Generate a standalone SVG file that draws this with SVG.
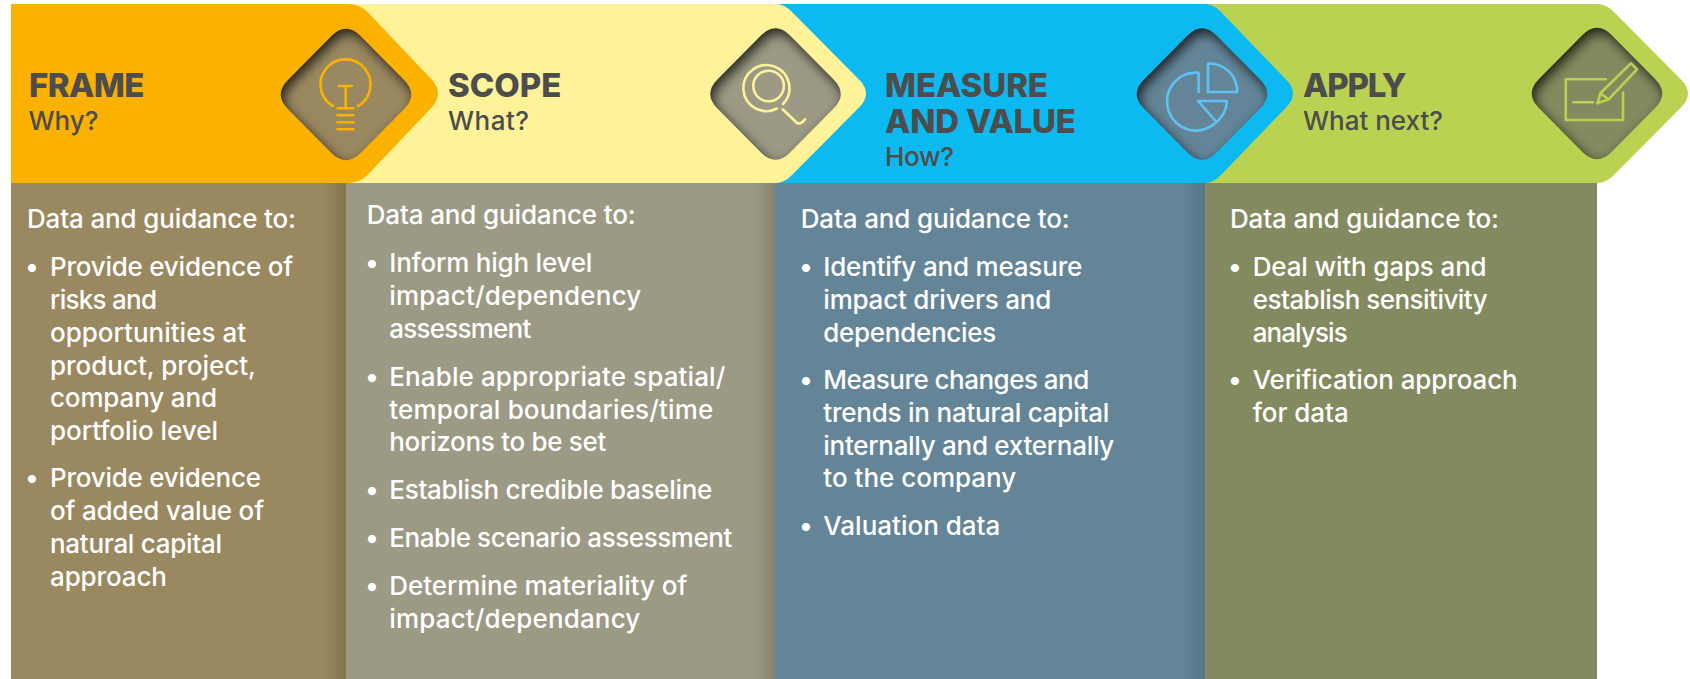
<svg xmlns="http://www.w3.org/2000/svg" xmlns:xlink="http://www.w3.org/1999/xlink" width="1690" height="679" viewBox="0 0 1690 679">
<style>
text{font-family:Inter,"Liberation Sans",sans-serif}
.h{font-size:33px;font-weight:800;fill:#4d4d4d}
.s{font-size:26px;font-weight:500;fill:#4d4d4d}
.b{font-size:26px;font-weight:500;fill:#fff}
.d{font-size:26px;font-weight:800;fill:#fff;text-anchor:middle}
.i{fill:none;stroke-width:2.6;stroke-linecap:round;stroke-linejoin:round}
</style>
<defs>
<path id="dia" d="M-14.5 -58.4Q0 -73 14.5 -58.4L58 -14.6Q72.5 0 58 14.6L14.5 58.4Q0 73 -14.5 58.4L-58 14.6Q-72.5 0 -58 -14.6Z"/>
<filter id="inset" x="-20%" y="-20%" width="140%" height="140%" color-interpolation-filters="sRGB">
<feFlood flood-color="#000" flood-opacity="0.75" result="f"/>
<feComposite in="f" in2="SourceAlpha" operator="out" result="o"/>
<feOffset in="o" dx="3" dy="5" result="off"/>
<feGaussianBlur in="off" stdDeviation="6" result="bl"/>
<feComposite in="bl" in2="SourceAlpha" operator="in" result="sh"/>
<feMerge><feMergeNode in="SourceGraphic"/><feMergeNode in="sh"/></feMerge>
</filter>
<linearGradient id="g1" x1="0" x2="1" y1="0" y2="0"><stop offset="0" stop-color="#9a8860"/><stop offset=".93" stop-color="#9a8860"/><stop offset="1" stop-color="#857650"/></linearGradient>
<linearGradient id="g2" x1="0" x2="1" y1="0" y2="0"><stop offset="0" stop-color="#9c9a84"/><stop offset=".95" stop-color="#9c9a84"/><stop offset="1" stop-color="#858370"/></linearGradient>
<linearGradient id="g3" x1="0" x2="1" y1="0" y2="0"><stop offset="0" stop-color="#648598"/><stop offset=".95" stop-color="#648598"/><stop offset="1" stop-color="#567487"/></linearGradient>
</defs>
<rect width="1690" height="679" fill="#fff"/>

<g id="step-apply">
<rect x="1205" y="183" width="392" height="496" fill="#838a5f"/>
<path fill="#bad252" d="M1190 4H1597Q1606 4 1614 12L1681 79.5Q1695 93.5 1681 107.5L1614 175Q1606 183 1597 183H1190Z"/>
<use href="#dia" x="1597" y="93.5" fill="#838a5f" filter="url(#inset)"/>
<g class="i" stroke="#bad252">
<path d="M1606 79.3H1565.8V120H1623V92.7"/>
<path d="M1573.3 102.3H1592.9"/>
<path d="M1597.4 103.3L1600.4 93.3L1631 63.3L1637 69.3L1608.6 99.3Z"/>
<path d="M1600.4 93.3L1608.6 99.3"/>
</g>
<text class="h" x="1303" y="97" textLength="103.5">APPLY</text>
<text class="s" x="1303" y="130" textLength="140">What next?</text>
<text class="b" x="1230" y="228" textLength="269">Data and guidance to:</text>
<text class="d" x="1235" y="276">•</text>
<text class="b" x="1252.7" y="276" textLength="234">Deal with gaps and</text>
<text class="b" x="1252.7" y="309" textLength="235">establish sensitivity</text>
<text class="b" x="1252.7" y="342" textLength="95">analysis</text>
<text class="d" x="1235" y="389">•</text>
<text class="b" x="1252.7" y="389" textLength="265">Verification approach</text>
<text class="b" x="1252.7" y="422" textLength="96">for data</text>
</g>

<g id="step-measure">
<rect x="775" y="183" width="430" height="496" fill="url(#g3)"/>
<path fill="#0cb9f0" d="M760 4H1205Q1213 4 1221 12L1286 79.5Q1300 93.5 1286 107.5L1221 175Q1213 183 1205 183H760Z"/>
<use href="#dia" x="1202" y="94" fill="#648598" filter="url(#inset)"/>
<g class="i" stroke="#5cc3f2">
<path d="M1198.6 92V72.7A29 29 0 1 0 1216.6 122"/>
<path d="M1198 101H1226.8A29 29 0 0 1 1216.6 122Z"/>
<path d="M1208 63.5V92H1237V88A28 28 0 0 0 1208 63.5Z"/>
</g>
<text class="h" x="885" y="97" textLength="163">MEASURE</text>
<text class="h" x="885" y="132.7" textLength="191">AND VALUE</text>
<text class="s" x="885" y="165.7" textLength="69">How?</text>
<text class="b" x="800.7" y="228.3" textLength="269">Data and guidance to:</text>
<text class="d" x="806" y="276">•</text>
<text class="b" x="823.3" y="276" textLength="259">Identify and measure</text>
<text class="b" x="823.3" y="308.7" textLength="228">impact drivers and</text>
<text class="b" x="823.3" y="341.7" textLength="173">dependencies</text>
<text class="d" x="806" y="389.3">•</text>
<text class="b" x="823.3" y="389.3" textLength="266">Measure changes and</text>
<text class="b" x="823.3" y="422" textLength="286">trends in natural capital</text>
<text class="b" x="823.3" y="455" textLength="291">internally and externally</text>
<text class="b" x="823.3" y="487.3" textLength="193">to the company</text>
<text class="d" x="806" y="535">•</text>
<text class="b" x="823.3" y="535" textLength="177">Valuation data</text>
</g>

<g id="step-scope">
<rect x="346" y="183" width="429" height="496" fill="url(#g2)"/>
<path fill="#fff399" d="M330 4H776Q784 4 792 12L859 79.5Q873 93.5 859 107.5L792 175Q784 183 776 183H330Z"/>
<use href="#dia" x="775.5" y="94" fill="#9c9a84" filter="url(#inset)"/>
<g class="i" stroke="#fff399">
<path d="M777 108.5A23 23 0 1 1 783 104"/>
<circle cx="768.6" cy="86" r="15.3"/>
<path d="M782.7 109.3L797 123Q801 125 805 119.3"/>
</g>
<text class="h" x="448" y="97" textLength="113.5">SCOPE</text>
<text class="s" x="448" y="130" textLength="81">What?</text>
<text class="b" x="366.7" y="224" textLength="269">Data and guidance to:</text>
<text class="d" x="372" y="272.3">•</text>
<text class="b" x="389.3" y="272.3" textLength="203">Inform high level</text>
<text class="b" x="389.3" y="305" textLength="252">impact/dependency</text>
<text class="b" x="389.3" y="337.7" textLength="142">assessment</text>
<text class="d" x="372" y="386">•</text>
<text class="b" x="389.3" y="386" textLength="336">Enable appropriate spatial/</text>
<text class="b" x="389.3" y="418.7" textLength="324">temporal boundaries/time</text>
<text class="b" x="389.3" y="451.3" textLength="217">horizons to be set</text>
<text class="d" x="372" y="499.3">•</text>
<text class="b" x="389.3" y="499.3" textLength="323">Establish credible baseline</text>
<text class="d" x="372" y="547.3">•</text>
<text class="b" x="389.3" y="547.3" textLength="343">Enable scenario assessment</text>
<text class="d" x="372" y="595">•</text>
<text class="b" x="389.3" y="595" textLength="298">Determine materiality of</text>
<text class="b" x="389.3" y="627.7" textLength="251">impact/dependancy</text>
</g>

<g id="step-frame">
<rect x="11" y="183" width="335" height="496" fill="url(#g1)"/>
<path fill="#fbb100" d="M11 4H348Q360 4 368 12.5L431 78.8Q445 93.5 431 108.2L368 174.5Q360 183 348 183H11Z"/>
<use href="#dia" x="346" y="94.5" fill="#9a8860" filter="url(#inset)"/>
<g class="i" stroke="#fbb100">
<path d="M333 106A25 25 0 1 1 358 106"/>
<path d="M339 86H352M345.7 86V108M337.5 108.3H353.5M337.5 115.3H353.5M337.5 122.3H353.5M337.5 129.3H353.5"/>
</g>
<text class="h" x="29" y="97" textLength="115.5">FRAME</text>
<text class="s" x="28.5" y="130" textLength="70">Why?</text>
<text class="b" x="27" y="228" textLength="269">Data and guidance to:</text>
<text class="d" x="32" y="276">•</text>
<text class="b" x="50" y="276" textLength="243">Provide evidence of</text>
<text class="b" x="50" y="309" textLength="107">risks and</text>
<text class="b" x="50" y="341.5" textLength="196">opportunities at</text>
<text class="b" x="50" y="374.5" textLength="206">product, project,</text>
<text class="b" x="50" y="407" textLength="167">company and</text>
<text class="b" x="50" y="440" textLength="168">portfolio level</text>
<text class="d" x="32" y="487">•</text>
<text class="b" x="50" y="487" textLength="211">Provide evidence</text>
<text class="b" x="50" y="520" textLength="214">of added value of</text>
<text class="b" x="50" y="553" textLength="172">natural capital</text>
<text class="b" x="50" y="585.5" textLength="117">approach</text>
</g>
</svg>
